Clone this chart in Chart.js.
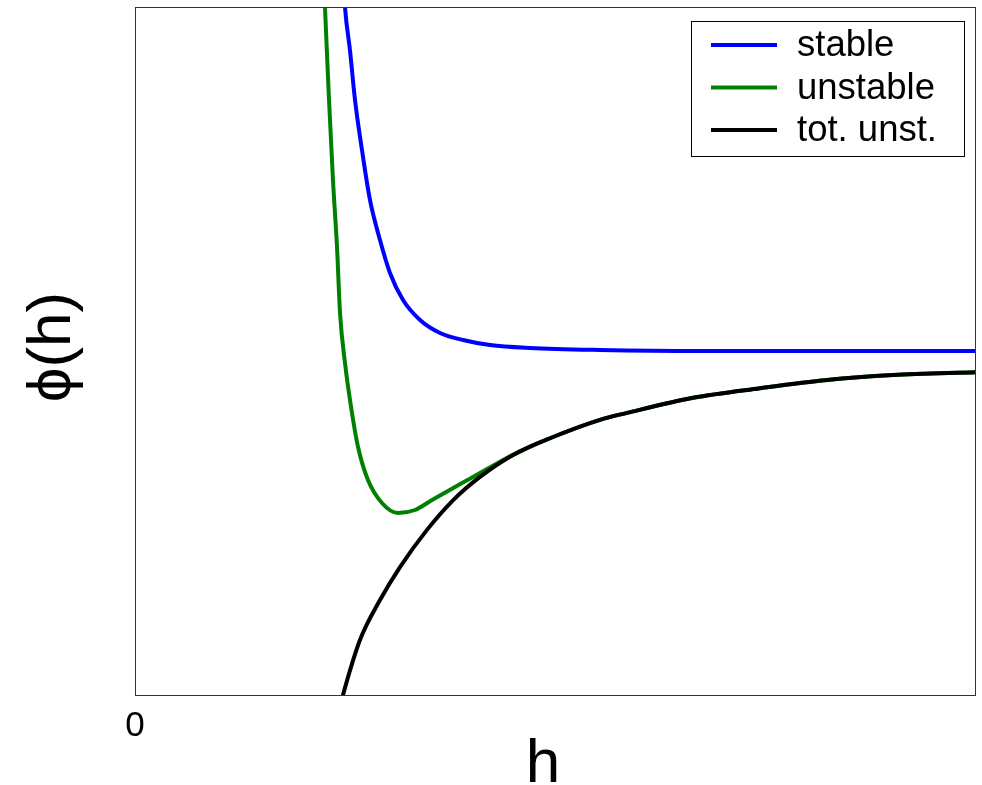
<!DOCTYPE html>
<html>
<head>
<meta charset="utf-8">
<title>phi(h)</title>
<script src="https://cdn.jsdelivr.net/npm/chart.js@4/dist/chart.umd.min.js"></script>
<style>
    body { margin: 0; background: #fff; }
    canvas { display: block; }
</style>
</head>
<body>
<canvas id="phiChart" width="982" height="785"></canvas>
<script>
// Series labels
const seriesNames = ['stable', 'unstable', 'tot. unst.'];

// stable branch
const stableH   = [2.473, 2.497, 2.556, 2.616, 2.699, 2.794, 2.913, 3.032, 3.187, 3.389, 3.627, 3.900, 4.221, 4.697, 5.529, 6.718, 10];
const stablePhi = [10.54, 10.0, 9.375, 8.648, 7.922, 7.195, 6.613, 6.134, 5.741, 5.451, 5.262, 5.160, 5.087, 5.044, 5.015, 5.00, 5.00];

// unstable branch
const unstableH   = [2.235, 2.259, 2.307, 2.354, 2.402, 2.438, 2.497, 2.580, 2.652, 2.770, 2.937, 3.127, 3.329, 3.532, 4.019, 4.340, 4.495, 4.970, 5.529, 5.850, 6.635, 7.432, 8.228, 9.013, 10];
const unstablePhi = [10.68, 10.0, 8.648, 7.485, 6.512, 5.552, 4.826, 4.099, 3.605, 3.125, 2.791, 2.645, 2.689, 2.834, 3.17, 3.39, 3.49, 3.75, 4.00, 4.10, 4.32, 4.46, 4.58, 4.65, 4.69];

// totally unstable branch
const totH   = [2.414, 2.473, 2.675, 2.913, 3.151, 3.472, 3.781, 4.102, 4.495, 4.970, 5.529, 5.850, 6.635, 7.432, 8.228, 9.013, 10];
const totPhi = [-0.29, 0.00, 0.80, 1.38, 1.86, 2.40, 2.83, 3.17, 3.49, 3.75, 4.00, 4.10, 4.32, 4.46, 4.58, 4.65, 4.69];

// x tick labels shown
const xTickValues = [0];

function toPoints(xs, ys) {
    return xs.map((x, i) => ({ x: x, y: ys[i] }));
}

// frame around the plot area
const frameBox = {
    id: 'frameBox',
    afterDraw(chart) {
        const { ctx, chartArea: a } = chart;
        ctx.save();
        ctx.strokeStyle = '#333';
        ctx.lineWidth = 1;
        ctx.strokeRect(Math.round(a.left) + 0.5, Math.round(a.top) + 0.5,
            Math.round(a.right - a.left) - 1, Math.round(a.bottom - a.top));
        ctx.restore();
    }
};

// legend box in the top right corner
const boxLegend = {
    id: 'boxLegend',
    afterDraw(chart) {
        const { ctx, chartArea: a } = chart;
        const left = a.right - 285, top = a.top + 14;
        ctx.save();
        ctx.fillStyle = '#fff';
        ctx.fillRect(left, top, 273, 135);
        ctx.strokeStyle = '#000';
        ctx.lineWidth = 1;
        ctx.strokeRect(left + 0.5, top + 0.5, 273, 135);
        ctx.font = '36.5px "Liberation Sans", Arial, sans-serif';
        ctx.textBaseline = 'middle';
        chart.data.datasets.forEach((ds, i) => {
            const y = top + 24 + i * 42.5;
            ctx.strokeStyle = ds.borderColor;
            ctx.lineWidth = 4;
            ctx.beginPath();
            ctx.moveTo(left + 20, y);
            ctx.lineTo(left + 86, y);
            ctx.stroke();
            ctx.fillStyle = '#000';
            ctx.fillText(ds.label, left + 106, y + 1);
        });
        ctx.restore();
    }
};

// big axis labels
const axisLabels = {
    id: 'axisLabels',
    afterDraw(chart) {
        const { ctx } = chart;
        ctx.save();
        ctx.fillStyle = '#000';
        ctx.font = '62px "Liberation Sans", Arial, sans-serif';
        ctx.textAlign = 'center';
        ctx.textBaseline = 'alphabetic';
        ctx.fillText('h', 543, 782);
        ctx.translate(70, 347);
        ctx.rotate(-Math.PI / 2);
        ctx.fillText('ϕ(h)', 0, 0);
        ctx.restore();
    }
};

const ctx = document.getElementById('phiChart').getContext('2d');
new Chart(ctx, {
    type: 'line',
    data: {
        datasets: [
            {
                label: seriesNames[0],
                data: toPoints(stableH, stablePhi),
                borderColor: '#0000ff',
                order: 1
            },
            {
                label: seriesNames[1],
                data: toPoints(unstableH, unstablePhi),
                borderColor: '#008000',
                order: 2
            },
            {
                label: seriesNames[2],
                data: toPoints(totH, totPhi),
                borderColor: '#000000',
                order: 0
            }
        ]
    },
    options: {
        responsive: false,
        animation: false,
        parsing: false,
        layout: { padding: { top: 7, right: 6, left: 0, bottom: 0 } },
        elements: {
            line: { borderWidth: 4, fill: false, cubicInterpolationMode: 'monotone' },
            point: { radius: 0, hoverRadius: 0 }
        },
        datasets: { line: { clip: 0 } },
        plugins: {
            legend: { display: false },
            tooltip: { enabled: false }
        },
        scales: {
            x: {
                type: 'linear',
                min: 0,
                max: 10,
                grid: { display: false, drawTicks: false },
                border: { display: false },
                afterBuildTicks: (scale) => {
                    scale.ticks = xTickValues.map(v => ({ value: v }));
                },
                afterFit: (scale) => { scale.height = 90; },
                ticks: {
                    padding: 10,
                    maxRotation: 0,
                    color: '#000',
                    font: { family: '"Liberation Sans", Arial, sans-serif', size: 35 }
                }
            },
            y: {
                type: 'linear',
                min: 0,
                max: 10,
                grid: { display: false, drawTicks: false },
                border: { display: false },
                ticks: { display: false },
                afterFit: (scale) => { scale.width = 135; }
            }
        }
    },
    plugins: [frameBox, boxLegend, axisLabels]
});
</script>
</body>
</html>
